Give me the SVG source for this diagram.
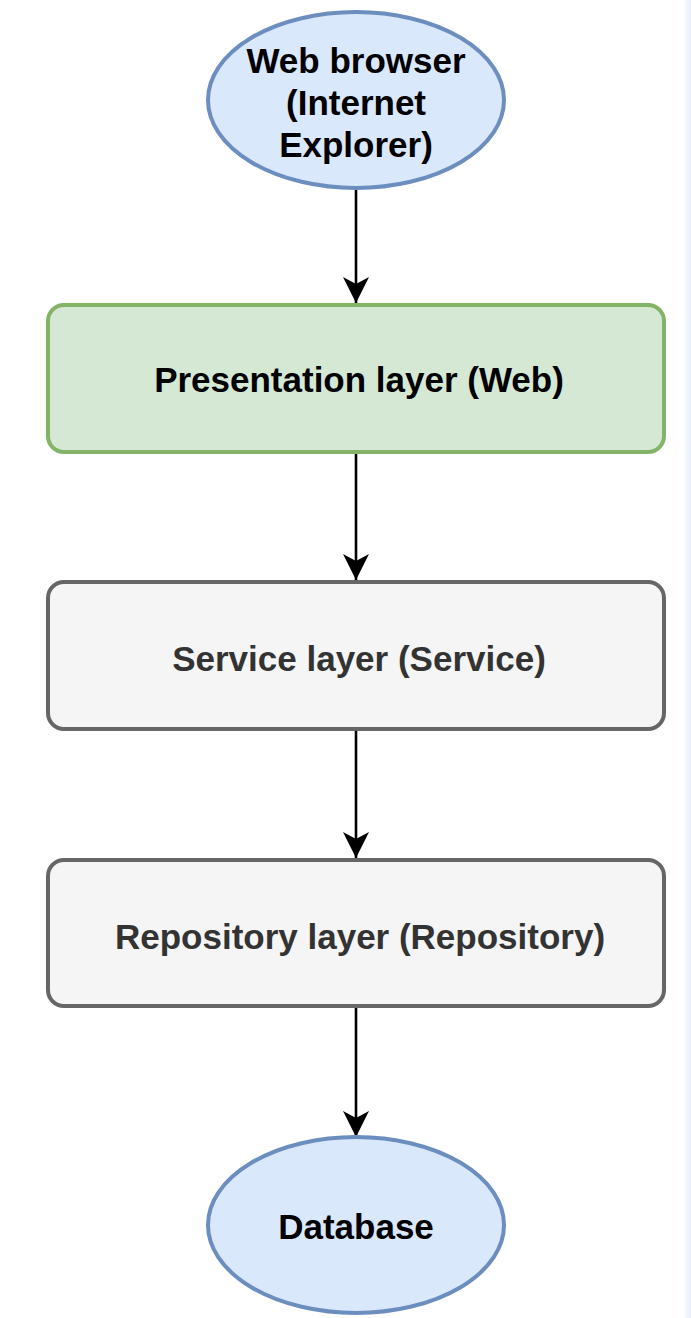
<svg xmlns="http://www.w3.org/2000/svg" width="691" height="1318" viewBox="0 0 691 1318">
<defs>
<style>
.t{font-family:"Liberation Sans",Arial,sans-serif;font-weight:bold;font-size:35px;text-anchor:middle}
.blue{fill:#dae8fc;stroke:#6c8ebf;stroke-width:4}
.green{fill:#d5e8d4;stroke:#82b366;stroke-width:4}
.gray{fill:#f5f5f5;stroke:#666666;stroke-width:4}
.edge{stroke:#000;stroke-width:2.6;fill:none;marker-end:url(#arr)}
</style>
<marker id="arr" markerUnits="userSpaceOnUse" markerWidth="28" markerHeight="28" viewBox="0 0 28 28" refX="26" refY="14" orient="auto">
<path d="M0,1 L26,14 L0,27 L7,14 Z" fill="#000"/>
</marker>
<linearGradient id="edgeg" x1="0" x2="1" y1="0" y2="0">
<stop offset="0" stop-color="#ffffff"/>
<stop offset="1" stop-color="#e6eef8"/>
</linearGradient>
</defs>
<rect x="0" y="0" width="691" height="1318" fill="#ffffff"/>
<rect x="683" y="0" width="8" height="1318" fill="url(#edgeg)"/>
<g id="connectors">
<line class="edge" x1="356" y1="189" x2="356" y2="303"/>
<line class="edge" x1="356" y1="453" x2="356" y2="580"/>
<line class="edge" x1="356" y1="730" x2="356" y2="858"/>
<line class="edge" x1="356" y1="1007" x2="356" y2="1137"/>
</g>
<g id="web-browser">
<ellipse class="blue" cx="356" cy="100" rx="148" ry="88"/>
<text class="t" x="356" y="73" fill="#000">Web browser</text>
<text class="t" x="356" y="115" fill="#000">(Internet</text>
<text class="t" x="356" y="157" fill="#000">Explorer)</text>
</g>
<g id="presentation">
<rect class="green" x="48" y="305" width="616" height="147" rx="16"/>
<text class="t" x="359" y="392" fill="#000">Presentation layer (Web)</text>
</g>
<g id="service">
<rect class="gray" x="48" y="582" width="616" height="147" rx="16"/>
<text class="t" x="359" y="671" fill="#333333">Service layer (Service)</text>
</g>
<g id="repository">
<rect class="gray" x="48" y="860" width="616" height="146" rx="16"/>
<text class="t" x="360" y="949" fill="#333333">Repository layer (Repository)</text>
</g>
<g id="database">
<ellipse class="blue" cx="356" cy="1225" rx="148" ry="88"/>
<text class="t" x="356" y="1239" fill="#000">Database</text>
</g>
</svg>
